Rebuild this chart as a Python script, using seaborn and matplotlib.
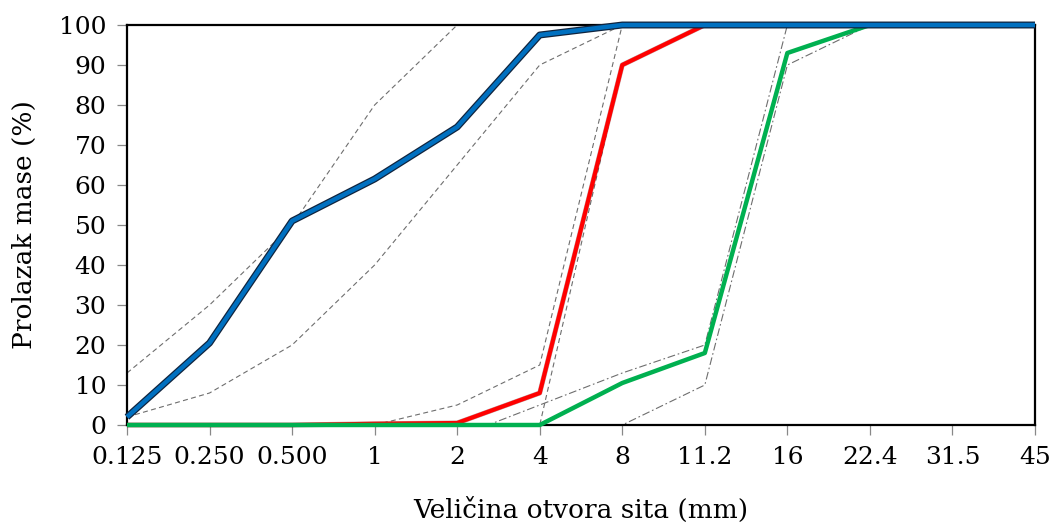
import numpy as np
import matplotlib
matplotlib.use("Agg")
import matplotlib.pyplot as plt
import matplotlib.patheffects as pe
import seaborn as sns

# Sieve sizes (mm) and passing percentages
sieve_sizes = ["0.125", "0.250", "0.500", "1", "2", "4", "8", "11.2", "16", "22.4", "31.5", "45"]
fraction_0_4 = [2, 20.5, 51, 61.5, 74.5, 97.5, 100, 100, 100, 100, 100, 100]
fraction_4_8 = [0, 0, 0, 0.3, 0.5, 8, 90, 100, 100, 100, 100, 100]
fraction_8_16 = [0, 0, 0, 0, 0, 0, 10.5, 18, 93, 100, 100, 100]

# Grading limits
limit_0_4_upper = [13, 30, 50, 80, 100, 100, 100, 100, 100, 100, 100, 100]
limit_0_4_lower = [2, 8, 20, 40, 65, 90, 100, 100, 100, 100, 100, 100]
limit_4_8_upper = [np.nan, np.nan, np.nan, 0, 5, 15, 100, 100, 100, 100, 100, 100]
limit_4_8_lower = [np.nan, np.nan, np.nan, np.nan, 0, 0, 90, 100, 100, 100, 100, 100]
limit_8_16_upper = [np.nan, np.nan, np.nan, np.nan, -3, 5, 13, 20, 100, 100, 100, 100]
limit_8_16_lower = [np.nan, np.nan, np.nan, np.nan, np.nan, 0, 0, 10, 90, 100, 100, 100]

sns.set_style("ticks")
plt.rcParams["font.family"] = ["DejaVu Serif"]
plt.rcParams["text.color"] = "black"
plt.rcParams["axes.labelcolor"] = "black"

fig = plt.figure(figsize=(10.54, 5.28), dpi=100)
ax = fig.add_axes([127 / 1054, 103 / 528, 908 / 1054, 400 / 528])

pos = np.arange(len(sieve_sizes))

grey = "#6e6e6e"
dash = (0, (4.5, 3))
dashdot = (0, (7, 2.5, 1.5, 2.5))

for vals, ls in [(limit_0_4_upper, dash), (limit_0_4_lower, dash),
                 (limit_4_8_upper, dash), (limit_4_8_lower, dash),
                 (limit_8_16_upper, dashdot), (limit_8_16_lower, dashdot)]:
    sns.lineplot(x=pos, y=vals, ax=ax, color=grey, linewidth=0.8,
                 linestyle=ls, estimator=None, zorder=2)

sns.lineplot(x=pos, y=fraction_4_8, ax=ax, color="#ff0000", linewidth=3.0,
             estimator=None, clip_on=False, zorder=4, solid_capstyle="butt",
             path_effects=[pe.Stroke(linewidth=3.6, foreground="#5a0000", alpha=0.35), pe.Normal()])
sns.lineplot(x=pos, y=fraction_8_16, ax=ax, color="#00b050", linewidth=3.2,
             estimator=None, clip_on=False, zorder=5, solid_capstyle="butt")
sns.lineplot(x=pos, y=fraction_0_4, ax=ax, color="#0070c0", linewidth=3.2,
             estimator=None, clip_on=False, zorder=6, solid_capstyle="butt",
             path_effects=[pe.Stroke(linewidth=5.0, foreground="#10243e", capstyle="butt"), pe.Normal()])

ax.set_xlim(0, len(sieve_sizes) - 1)
ax.set_ylim(0, 100)
ax.set_xticks(pos)
ax.set_xticklabels(sieve_sizes)
ax.set_yticks(np.arange(0, 101, 10))

for s in ax.spines.values():
    s.set_visible(True)
    s.set_color("black")
    s.set_linewidth(1.6)

ax.tick_params(axis="both", which="major", length=7, width=0.9, color="#888888",
               labelsize=18, labelcolor="black", direction="out")
ax.tick_params(axis="x", pad=8)
ax.tick_params(axis="y", pad=8)

ax.set_xlabel("Veličina otvora sita (mm)", fontsize=19, labelpad=20)
ax.set_ylabel("Prolazak mase (%)", fontsize=19, labelpad=16)

fig.savefig("out.png", dpi=100, facecolor="white")
